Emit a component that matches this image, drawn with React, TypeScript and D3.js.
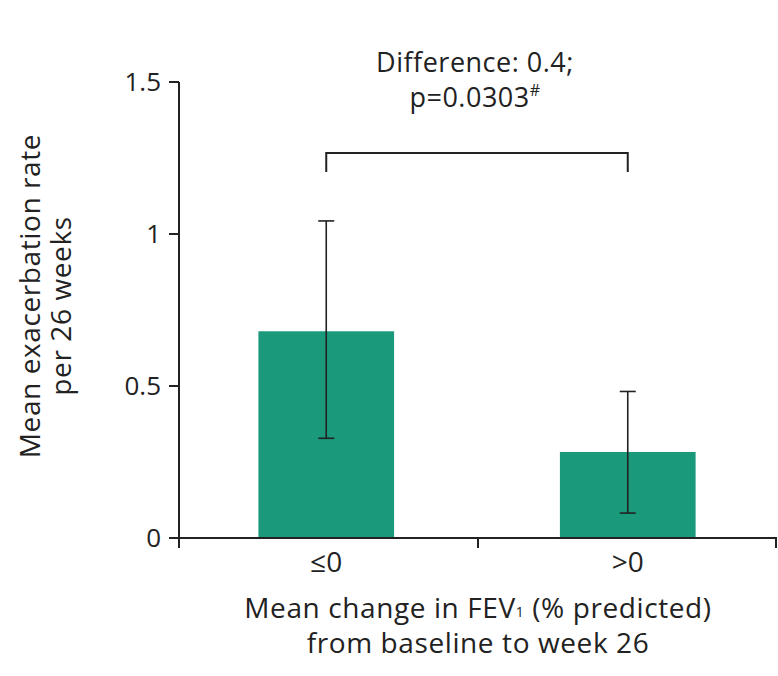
import React from "react";
import * as d3 from "d3";

const categories = ["≤0", ">0"];
const means = [0.68, 0.283];
const errLow = [0.328, 0.082];
const errHigh = [1.043, 0.482];
const yTicks = [0, 0.5, 1, 1.5];
const yTickLabels = ["0", "0.5", "1", "1.5"];

const W = 778;
const H = 676;
const FONT = "'Open Sans', 'DejaVu Sans', sans-serif";
const BAR = "#1a997b";
const INK = "#222";

export default function App() {
  const y = d3.scaleLinear().domain([0, 1.5]).range([538, 82]);
  const x = d3.scaleBand<string>().domain(categories).range([177, 777]).paddingInner(0.55).paddingOuter(0.27);
  const axisX0 = 179;
  const axisX1 = 777;
  const cx = (c: string) => (x(c) as number) + x.bandwidth() / 2;
  const bracketY = 153;

  return (
    <svg width={W} height={H} style={{ position: "absolute", left: 0, top: 0, background: "#fff" }} fontFamily={FONT}>
      {/* bars */}
      {categories.map((c, i) => (
        <rect key={c} x={x(c)} y={y(means[i])} width={x.bandwidth()} height={y(0) - y(means[i])} fill={BAR} />
      ))}
      {/* error bars */}
      {categories.map((c, i) => (
        <g key={"e" + c} stroke={INK} strokeWidth={1.6}>
          <line x1={cx(c)} x2={cx(c)} y1={y(errLow[i])} y2={y(errHigh[i])} />
          <line x1={cx(c) - 8} x2={cx(c) + 8} y1={y(errLow[i])} y2={y(errLow[i])} />
          <line x1={cx(c) - 8} x2={cx(c) + 8} y1={y(errHigh[i])} y2={y(errHigh[i])} />
        </g>
      ))}
      {/* y axis */}
      <line x1={axisX0} x2={axisX0} y1={y(1.5)} y2={y(0)} stroke={INK} strokeWidth={2} />
      {yTicks.map((t, i) => (
        <g key={"yt" + t}>
          <line x1={axisX0 - 10} x2={axisX0} y1={y(t)} y2={y(t)} stroke={INK} strokeWidth={2} />
          <text x={axisX0 - 18} y={y(t)} dy="0.35em" textAnchor="end" fontSize={26} fill={INK}>
            {yTickLabels[i]}
          </text>
        </g>
      ))}
      {/* x axis */}
      <line x1={axisX0 - 10} x2={axisX1} y1={y(0)} y2={y(0)} stroke={INK} strokeWidth={2} />
      {[axisX0, (axisX0 + axisX1) / 2, axisX1 - 1].map((tx, i) => (
        <line key={"xt" + i} x1={tx} x2={tx} y1={y(0)} y2={y(0) + 10} stroke={INK} strokeWidth={2} />
      ))}
      {categories.map((c) => (
        <text key={"xl" + c} x={cx(c)} y={572} textAnchor="middle" fontSize={28} fill={INK}>
          {c}
        </text>
      ))}
      {/* x title */}
      <text x={478} y={618} textAnchor="middle" fontSize={28} letterSpacing={0.6} fill={INK}>
        Mean change in FEV<tspan fontSize={14} dy="-1">1</tspan>
        <tspan dy="1"> (% predicted)</tspan>
      </text>
      <text x={478} y={653} textAnchor="middle" fontSize={28} letterSpacing={0.6} fill={INK}>
        from baseline to week 26
      </text>
      {/* y title */}
      <g transform="translate(0,296) rotate(-90)">
        <text x={0} y={40} textAnchor="middle" fontSize={28} letterSpacing={0.6} fill={INK}>
          Mean exacerbation rate
        </text>
        <text x={-10} y={71} textAnchor="middle" fontSize={28} letterSpacing={0.6} fill={INK}>
          per 26 weeks
        </text>
      </g>
      {/* bracket */}
      <path
        d={`M${cx(categories[0])},${bracketY + 19}V${bracketY}H${cx(categories[1])}V${bracketY + 19}`}
        fill="none"
        stroke={INK}
        strokeWidth={2}
      />
      <text x={475} y={72} textAnchor="middle" fontSize={27} letterSpacing={0.5} fill={INK}>
        Difference: 0.4;
      </text>
      <text x={475} y={107} textAnchor="middle" fontSize={27} letterSpacing={0.5} fill={INK}>
        p=0.0303<tspan fontSize={16} dy="-11">#</tspan>
      </text>
    </svg>
  );
}
